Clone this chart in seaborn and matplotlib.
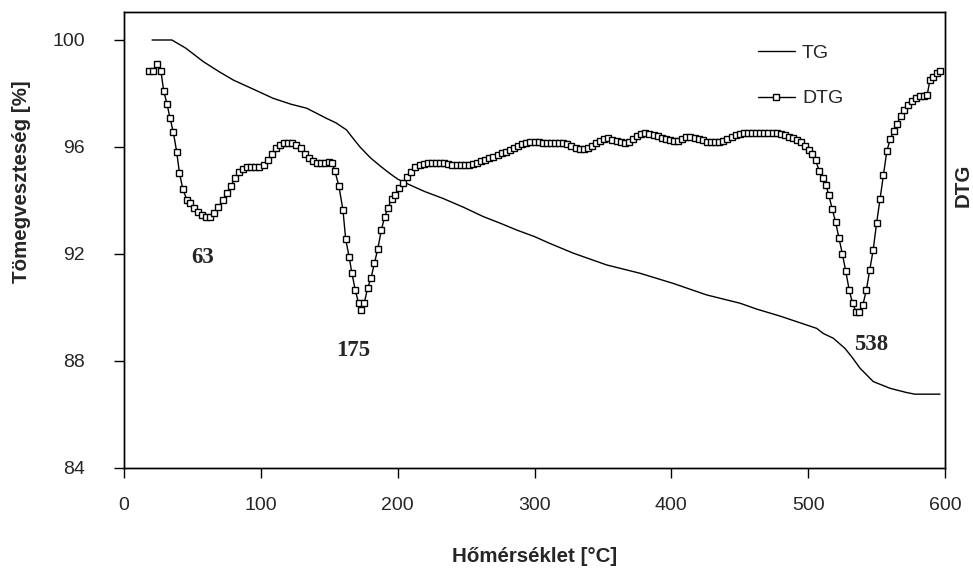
import matplotlib
matplotlib.use("Agg")
import matplotlib.pyplot as plt
import seaborn as sns
import pandas as pd

# ---- data ----
tg_temp = [20.5, 35, 45, 58, 70, 80, 95, 109, 122, 133.5, 148, 155, 162.6, 167, 172.5,
           180, 187, 194, 200, 209, 220, 233, 248, 262.5, 275, 286.8, 300, 311, 328.4,
           352.8, 377.1, 401.4, 425.8, 450.2, 462.4, 479.4, 494, 506.2, 511, 518.4,
           526.9, 531.8, 537.9, 547.6, 559.8, 572, 578, 596.3]
tg_value = [100.0, 100.0, 99.7, 99.19, 98.8, 98.5, 98.15, 97.82, 97.6, 97.45, 97.07, 96.9,
            96.64, 96.35, 96.0, 95.6, 95.3, 95.02, 94.8, 94.58, 94.33, 94.08, 93.75, 93.4,
            93.15, 92.9, 92.65, 92.4, 92.03, 91.59, 91.28, 90.9, 90.47, 90.16, 89.94,
            89.68, 89.43, 89.22, 89.03, 88.85, 88.47, 88.16, 87.73, 87.23, 86.98, 86.82,
            86.76, 86.76]

dtg_temp = [18.5, 21, 24, 27, 29, 31.5, 33.5, 36, 38.5, 40.5, 43, 46, 48, 51, 54, 57, 60,
            63, 66, 69, 72, 75, 78, 81, 84, 87, 90, 93, 96, 99, 102, 105, 108, 111, 114,
            117, 120, 123, 126, 129, 132, 135, 138, 141, 144, 147, 150, 152, 154, 157, 160,
            162, 164.5, 166.5, 169, 171.5, 173.5, 175.5, 178, 180.5, 183, 185.5, 188, 190.5,
            193, 195.5, 198, 201, 204, 207, 210, 213, 216, 219, 222, 225, 228, 231, 234,
            237, 240, 243, 246, 249, 252, 255, 258, 261, 264, 267, 270, 273, 276, 279, 282,
            285, 288, 291, 294, 297, 300, 303, 306, 309, 312, 315, 318, 321, 324, 327, 330,
            333, 336, 339, 342, 345, 348, 351, 354, 357, 360, 363, 366, 369, 372, 375, 378,
            381, 384, 387, 390, 393, 396, 399, 402, 405, 408, 411, 414, 417, 420, 423, 426,
            429, 432, 435, 438, 441, 444, 447, 450, 453, 456, 459, 462, 465, 468, 471, 474,
            477, 480, 483, 486, 489, 492, 495, 498, 500.5, 503, 505.5, 508, 510.5, 513, 515,
            517.5, 520, 522.5, 525, 527.5, 530, 532.5, 535, 537.5, 540, 542.5, 545, 547.5,
            550, 552.5, 555, 557.5, 560, 562.5, 565, 567.5, 570, 573, 576, 579, 582, 585,
            587, 589, 591.5, 594, 596]
dtg_value = [98.83, 98.83, 99.1, 98.83, 98.1, 97.6, 97.1, 96.57, 95.82, 95.04, 94.42, 94.02,
             93.9, 93.72, 93.57, 93.44, 93.37, 93.4, 93.55, 93.75, 94.0, 94.27, 94.53, 94.83,
             95.05, 95.18, 95.26, 95.27, 95.27, 95.27, 95.33, 95.5, 95.75, 95.95, 96.07,
             96.14, 96.16, 96.15, 96.07, 95.95, 95.72, 95.58, 95.46, 95.41, 95.39, 95.4,
             95.43, 95.4, 95.12, 94.55, 93.65, 92.56, 91.9, 91.3, 90.65, 90.15, 89.92, 90.15,
             90.72, 91.1, 91.65, 92.2, 92.88, 93.4, 93.73, 94.05, 94.22, 94.45, 94.67, 94.88,
             95.08, 95.24, 95.33, 95.38, 95.41, 95.42, 95.42, 95.41, 95.39, 95.36, 95.34,
             95.33, 95.33, 95.33, 95.34, 95.37, 95.42, 95.46, 95.52, 95.58, 95.64, 95.7,
             95.76, 95.82, 95.9, 95.98, 96.05, 96.1, 96.15, 96.18, 96.2, 96.17, 96.14, 96.14,
             96.14, 96.14, 96.14, 96.14, 96.12, 96.05, 95.98, 95.93, 95.91, 95.95, 96.05,
             96.15, 96.24, 96.3, 96.32, 96.28, 96.22, 96.18, 96.15, 96.18, 96.3, 96.4, 96.48,
             96.51, 96.49, 96.44, 96.4, 96.34, 96.29, 96.25, 96.21, 96.22, 96.3, 96.36, 96.36,
             96.33, 96.3, 96.25, 96.2, 96.2, 96.2, 96.2, 96.24, 96.3, 96.36, 96.43, 96.49,
             96.51, 96.52, 96.53, 96.53, 96.53, 96.53, 96.53, 96.53, 96.51, 96.48, 96.43,
             96.38, 96.33, 96.28, 96.2, 96.05, 95.9, 95.72, 95.5, 95.12, 94.85, 94.58, 94.22,
             93.7, 93.2, 92.6, 92.0, 91.35, 90.65, 90.15, 89.84, 89.84, 90.1, 90.65, 91.4,
             92.15, 93.15, 94.05, 94.95, 95.85, 96.3, 96.6, 96.85, 97.17, 97.4, 97.57, 97.73,
             97.83, 97.89, 97.92, 97.95, 98.5, 98.6, 98.75, 98.85]

peak_labels = ["63", "175", "538"]
peak_label_x = [57.7, 167.5, 546]
peak_label_y = [91.86, 88.4, 88.6]

x_ticks = [0, 100, 200, 300, 400, 500, 600]
y_ticks = [84, 88, 92, 96, 100]

# ---- style ----
sns.set_style("ticks")
plt.rcParams['font.family'] = ['Liberation Sans', 'DejaVu Sans']

fig = plt.figure(figsize=(9.73, 5.68), dpi=100)
ax = fig.add_axes([124/973, 1-468/568, (945-124)/973, (468-12)/568])
ax2 = ax.twinx()

tg_df = pd.DataFrame({"T": tg_temp, "TG": tg_value})
dtg_df = pd.DataFrame({"T": dtg_temp, "DTG": dtg_value})

sns.lineplot(data=tg_df, x="T", y="TG", ax=ax, color="black", lw=1.0, label="TG", legend=False)
sns.lineplot(data=dtg_df, x="T", y="DTG", ax=ax2, color="black", lw=1.0, marker="s",
             markersize=4.6, markerfacecolor="white", markeredgecolor="black",
             markeredgewidth=1.0, label="DTG", legend=False)

ylim = (84, 84 + (468-12)/26.75)
for a in (ax, ax2):
    a.set_xlim(0, 600)
    a.set_ylim(*ylim)
    for s in a.spines.values():
        s.set_color("black")
        s.set_linewidth(1.0)
        s.set_visible(True)

ax.set_xticks(x_ticks)
ax.set_yticks(y_ticks)
ax.tick_params(axis="both", direction="out", length=7, width=1, color="black",
               labelsize=14)
ax.tick_params(axis="y", pad=21)
ax.tick_params(axis="x", pad=14)
ax2.set_yticks([])
ax.set_xlabel("Hőmérséklet [°C]", fontsize=14.8, fontweight="bold")
ax.set_ylabel("Tömegveszteség [%]", fontsize=14.8, fontweight="bold")
ax2.set_ylabel("DTG", fontsize=14.8, fontweight="bold")
ax.xaxis.set_label_coords(0.5, (468-556)/456, transform=ax.transAxes)
ax.xaxis.label.set_va("center")
ax.yaxis.set_label_coords((22-124)/821, (468-182)/456, transform=ax.transAxes)
ax.yaxis.label.set_va("center")
ax2.yaxis.set_label_coords((963-124)/821, (468-185)/456, transform=ax2.transAxes)
ax2.yaxis.label.set_va("center")

for lab, xx, yy in zip(peak_labels, peak_label_x, peak_label_y):
    ax2.text(xx, yy, lab, ha="center", va="center", fontsize=16.5, fontweight="bold",
             family="Liberation Serif")

h1, l1 = ax.get_legend_handles_labels()
h2, l2 = ax2.get_legend_handles_labels()
fig.legend(h1 + h2, l1 + l2, loc="upper left", bbox_to_anchor=(758/973, 1-44/568),
           frameon=False, fontsize=14, handlelength=1.9, handletextpad=0.36,
           labelspacing=1.45, borderpad=0, borderaxespad=0)

fig.savefig("out.png", dpi=100)
